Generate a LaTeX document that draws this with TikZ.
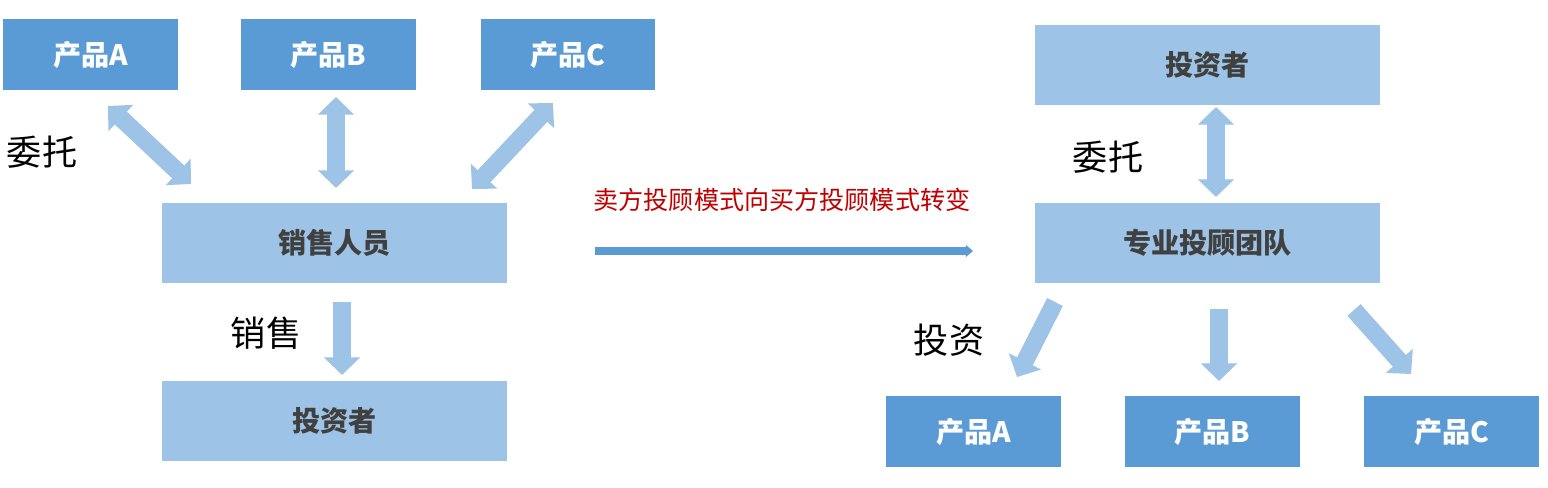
\documentclass[tikz,border=0pt]{standalone}
\usepackage{fontspec}
\newfontfamily\cjk{Noto Sans CJK SC}
\usetikzlibrary{arrows.meta}
\definecolor{dblue}{HTML}{5B9BD5}
\definecolor{lblue}{HTML}{9DC3E6}
\definecolor{dtext}{HTML}{404040}
\definecolor{redtext}{HTML}{C00000}
\tikzset{
  prodbox/.style={fill=dblue, draw=none, minimum width=3.5cm, minimum height=1.42cm, inner sep=0pt, text=white, font=\cjk\bfseries\fontsize{16}{18}\selectfont},
  rolebox/.style={fill=lblue, draw=none, minimum width=6.9cm, minimum height=1.6cm, inner sep=0pt, text=dtext, font=\cjk\bfseries\fontsize{16}{18}\selectfont},
  biglabel/.style={font=\cjk\fontsize{20}{22}\selectfont, text=black, inner sep=0pt},
  blockarrow/.style={draw=lblue, line width=10pt, -{Triangle[length=10pt,width=20pt]}},
  blockdarrow/.style={draw=lblue, line width=10pt, {Triangle[length=10pt,width=20pt]}-{Triangle[length=10pt,width=20pt]}},
  changearrow/.style={draw=dblue, line width=4pt, -{Triangle[length=4pt,width=6.5pt]}},
}
\begin{document}
\begin{tikzpicture}[x=0.02cm, y=-0.02cm]
\useasboundingbox (0,0) rectangle (1548,487);
% left part
\node[prodbox] (pA) at (90.5,54.5) {产品A};
\node[prodbox] (pB) at (328.5,54.5) {产品B};
\node[prodbox] (pC) at (568,54.5) {产品C};
\node[rolebox] (sales) at (334.5,243) {销售人员};
\node[rolebox] (invL) at (334.5,420.5) {投资者};
\node[biglabel] (wtL) at (42,152) {委托};
\node[biglabel] (xs) at (266,333) {销售};
\coordinate (aA1) at (108,106);
\coordinate (aA2) at (191,184);
\coordinate (aB1) at (336,97);
\coordinate (aB2) at (336,188);
\coordinate (aC1) at (553,103);
\coordinate (aC2) at (472,189);
\coordinate (aS1) at (342,302);
\coordinate (aS2) at (342,375);
\draw[blockdarrow] (aA1) -- (aA2);
\draw[blockdarrow] (aB1) -- (aB2);
\draw[blockdarrow] (aC1) -- (aC2);
\draw[blockarrow] (aS1) -- (aS2);
% middle
\node[font=\cjk\fontsize{14.3}{16}\selectfont, text=redtext, inner sep=0pt] (chg) at (782,200) {卖方投顾模式向买方投顾模式转变};
\coordinate (m1) at (595,251);
\coordinate (m2) at (973,251);
\draw[changearrow] (m1) -- (m2);
% right part
\node[rolebox] (invR) at (1207.5,65) {投资者};
\node[rolebox] (team) at (1207.5,243) {专业投顾团队};
\node[prodbox] (rA) at (973.5,431.5) {产品A};
\node[prodbox] (rB) at (1212,431.5) {产品B};
\node[prodbox] (rC) at (1451.5,431.5) {产品C};
\node[biglabel] (wtR) at (1108,157) {委托};
\node[biglabel] (tz) at (949,340) {投资};
\coordinate (r1) at (1216,107);
\coordinate (r2) at (1216,197);
\coordinate (b1a) at (1055,302);
\coordinate (b1b) at (1017,377);
\coordinate (b2a) at (1219,309);
\coordinate (b2b) at (1219,381);
\coordinate (b3a) at (1354,310);
\coordinate (b3b) at (1411,374);
\draw[blockdarrow] (r1) -- (r2);
\draw[blockarrow] (b1a) -- (b1b);
\draw[blockarrow] (b2a) -- (b2b);
\draw[blockarrow] (b3a) -- (b3b);
\end{tikzpicture}
\end{document}
